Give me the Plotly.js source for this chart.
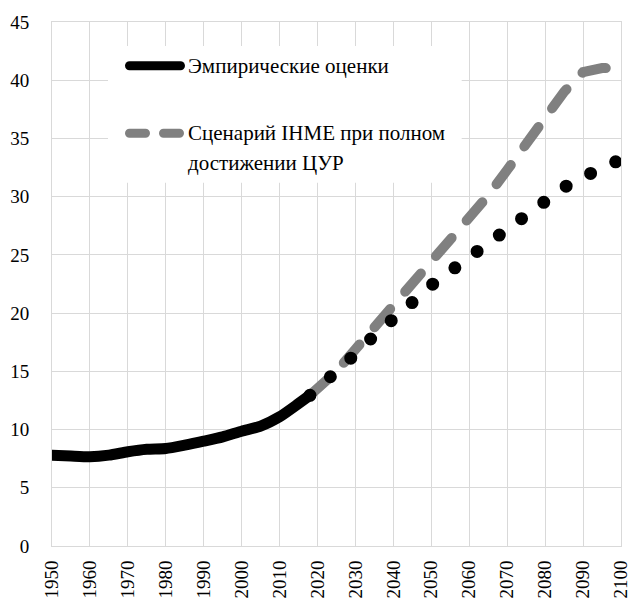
<!DOCTYPE html>
<html>
<head>
<meta charset="utf-8">
<script src="https://cdn.plot.ly/plotly-3.0.1.min.js"></script>
<style>
  html, body { margin: 0; padding: 0; background: #fff; }
  #chart { width: 632px; height: 599px; }
  svg text { font-family: 'Liberation Serif', serif !important; }
  .scatterlayer .js-line, .shapelayer path { stroke-linecap: round !important; }
</style>
</head>
<body>
<div id="chart"></div>
<script>
// ---- data ----
const empiricalYears = [1950, 1955, 1960, 1965, 1970, 1975, 1980, 1985, 1990, 1995, 2000, 2005, 2010, 2015, 2018];
const empiricalValues = [7.8, 7.72, 7.66, 7.8, 8.09, 8.3, 8.37, 8.66, 9.0, 9.37, 9.86, 10.29, 11.09, 12.23, 12.94];

const projectionYears = [2018, 2020, 2025, 2030, 2035, 2040, 2045, 2050, 2055, 2060, 2065, 2070, 2075, 2080, 2085, 2090, 2095, 2100];
const ihmeSdgValues = [12.94, 13.5, 15.0, 16.9, 18.8, 20.5, 22.5, 24.5, 26.4, 28.3, 30.1, 32.3, 34.6, 36.9, 39.0, 40.7, 41.05, 41.0];
const referenceValues = [12.94, 13.5, 15.0, 16.5, 18.1, 19.4, 20.93, 22.4, 23.7, 24.8, 26.0, 27.2, 28.4, 29.8, 30.8, 31.7, 32.5, 33.2];

const legendEmpirical = "Эмпирические оценки";
const legendIhmeLine1 = "Сценарий IHME при полном";
const legendIhmeLine2 = "достижении ЦУР";

// ---- chart ----
const serifFamily = "Liberation Serif";
const GRID = "#d9d9d9";

const traces = [
  {
    x: projectionYears, y: ihmeSdgValues, type: "scatter", mode: "lines",
    line: { color: "#808080", width: 10, dash: "24px,23px" },
    showlegend: false, hoverinfo: "skip"
  },
  {
    x: projectionYears, y: referenceValues, type: "scatter", mode: "lines",
    line: { color: "#000000", width: 13, dash: "0px,27.6px" },
    showlegend: false, hoverinfo: "skip"
  },
  {
    x: empiricalYears, y: empiricalValues, type: "scatter", mode: "lines",
    line: { color: "#000000", width: 11, shape: "spline", smoothing: 0.6 },
    showlegend: false, hoverinfo: "skip"
  }
];

const layout = {
  width: 632, height: 599,
  margin: { l: 52, r: 11, t: 22, b: 53, pad: 0 },
  paper_bgcolor: "#ffffff", plot_bgcolor: "#ffffff",
  font: { family: serifFamily, size: 19, color: "#000000" },
  showlegend: false,
  xaxis: {
    range: [1950, 2100], dtick: 10, tick0: 1950, tickangle: -90,
    showgrid: true, gridcolor: GRID, gridwidth: 1,
    showline: true, linecolor: GRID, linewidth: 1, mirror: true,
    zeroline: false, ticks: "", ticklabelstandoff: 6,
    tickfont: { family: serifFamily, size: 19, color: "#000000" }, fixedrange: true
  },
  yaxis: {
    range: [0, 45], dtick: 5, tick0: 0,
    showgrid: true, gridcolor: GRID, gridwidth: 1,
    showline: true, linecolor: GRID, linewidth: 1, mirror: true,
    zeroline: false, ticks: "", ticklabelstandoff: 18,
    tickfont: { family: serifFamily, size: 19, color: "#000000" }, fixedrange: true
  },
  shapes: [
    { type: "rect", xref: "paper", yref: "paper", x0: 0.0984, x1: 0.720, y0: 0.693, y1: 0.954,
      fillcolor: "#ffffff", line: { width: 0 }, layer: "above" },
    { type: "line", xref: "paper", yref: "paper", x0: 0.1362, x1: 0.2258, y0: 0.9166, y1: 0.9166,
      line: { color: "#000000", width: 9 }, layer: "above" },
    { type: "line", xref: "paper", yref: "paper", x0: 0.1362, x1: 0.2258, y0: 0.7876, y1: 0.7876,
      line: { color: "#808080", width: 9, dash: "16px,18px" }, layer: "above" }
  ],
  annotations: [
    { text: legendEmpirical, xref: "paper", yref: "paper", x: 0.2373, y: 0.9166,
      xanchor: "left", yanchor: "middle", showarrow: false, borderpad: 0,
      font: { family: serifFamily, size: 21, color: "#000000" } },
    { text: legendIhmeLine1, xref: "paper", yref: "paper", x: 0.2373, y: 0.7876,
      xanchor: "left", yanchor: "middle", showarrow: false, borderpad: 0,
      font: { family: serifFamily, size: 21, color: "#000000" } },
    { text: legendIhmeLine2, xref: "paper", yref: "paper", x: 0.2373, y: 0.7309,
      xanchor: "left", yanchor: "middle", showarrow: false, borderpad: 0,
      font: { family: serifFamily, size: 21, color: "#000000" } }
  ]
};

Plotly.newPlot("chart", traces, layout, { displayModeBar: false });
</script>
</body>
</html>
